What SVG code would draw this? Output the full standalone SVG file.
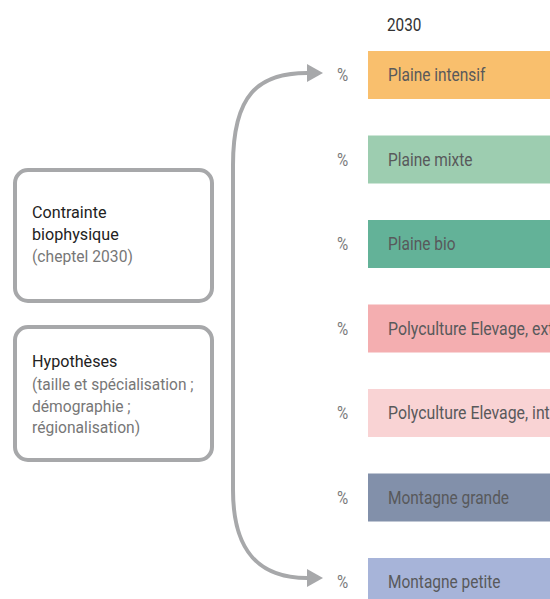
<svg xmlns="http://www.w3.org/2000/svg" width="550" height="599" viewBox="0 0 550 599">
<style>
.t{font-family:Roboto,"Liberation Sans",sans-serif;font-size:18px;fill:#58595b}
.p{font-family:Roboto,"Liberation Sans",sans-serif;font-size:18px;fill:#7a7a7a}
.h{font-family:Roboto,"Liberation Sans",sans-serif;font-size:18px;fill:#333}
.b{font-family:Roboto,"Liberation Sans",sans-serif;font-size:17px;fill:#222}
.s{font-family:Roboto,"Liberation Sans",sans-serif;font-size:17px;fill:#777}
.box{fill:#fff;stroke:#a7a8aa;stroke-width:4}
.con{fill:none;stroke:#a7a8aa;stroke-width:4}
</style>
<defs>
<marker id="ah" markerUnits="userSpaceOnUse" markerWidth="16" markerHeight="18" refX="0" refY="9" orient="auto">
<path d="M0,0 L16,9 L0,18 Z" fill="#a7a8aa"/>
</marker>
</defs>
<text class="h" transform="translate(387,31) scale(0.85,1)">2030</text>
<g id="connectors">
<path class="con" d="M233,480 L233,165 C233,95 258,73 307,73" marker-end="url(#ah)"/>
<path class="con" d="M233,470 L233,490 C233,548 256,578 307,578" marker-end="url(#ah)"/>
</g>
<g id="contrainte">
<rect class="box" x="15" y="170" width="197" height="131" rx="13"/>
<text class="b" transform="translate(32,218) scale(0.95,1)">Contrainte</text>
<text class="b" transform="translate(32,240) scale(0.95,1)">biophysique</text>
<text class="s" transform="translate(32,262) scale(0.92,1)">(cheptel 2030)</text>
</g>
<g id="hypotheses">
<rect class="box" x="15" y="327" width="197" height="133" rx="13"/>
<text class="b" transform="translate(32,367) scale(0.95,1)">Hypothèses</text>
<text class="s" transform="translate(32,390) scale(0.91,1)">(taille et spécialisation ;</text>
<text class="s" transform="translate(32,412) scale(0.92,1)">démographie ;</text>
<text class="s" transform="translate(32,433) scale(0.92,1)">régionalisation)</text>
</g>
<g id="r1">
<text class="p" transform="translate(337,81) scale(0.85,1)">%</text>
<rect x="368" y="51" width="182" height="48" fill="#f9bf6d"/>
<text class="t" transform="translate(388,81) scale(0.86,1)">Plaine intensif</text>
</g>
<g id="r2">
<text class="p" transform="translate(337,165.5) scale(0.85,1)">%</text>
<rect x="368" y="135.5" width="182" height="48" fill="#9dcdb0"/>
<text class="t" transform="translate(388,165.5) scale(0.86,1)">Plaine mixte</text>
</g>
<g id="r3">
<text class="p" transform="translate(337,250) scale(0.85,1)">%</text>
<rect x="368" y="220" width="182" height="48" fill="#63b298"/>
<text class="t" transform="translate(388,250) scale(0.86,1)">Plaine bio</text>
</g>
<g id="r4">
<text class="p" transform="translate(337,334.5) scale(0.85,1)">%</text>
<rect x="368" y="304.5" width="182" height="48" fill="#f4aeb0"/>
<text class="t" transform="translate(388,334.5) scale(0.88,1)">Polyculture Elevage, ext</text>
</g>
<g id="r5">
<text class="p" transform="translate(337,419) scale(0.85,1)">%</text>
<rect x="368" y="389" width="182" height="48" fill="#f9d3d4"/>
<text class="t" transform="translate(388,419) scale(0.88,1)">Polyculture Elevage, int</text>
</g>
<g id="r6">
<text class="p" transform="translate(337,503.5) scale(0.85,1)">%</text>
<rect x="368" y="473.5" width="182" height="48" fill="#8290aa"/>
<text class="t" transform="translate(388,503.5) scale(0.86,1)">Montagne grande</text>
</g>
<g id="r7">
<text class="p" transform="translate(337,588) scale(0.85,1)">%</text>
<rect x="368" y="558" width="182" height="41" fill="#a7b4d9"/>
<text class="t" transform="translate(388,588) scale(0.86,1)">Montagne petite</text>
</g>
</svg>
